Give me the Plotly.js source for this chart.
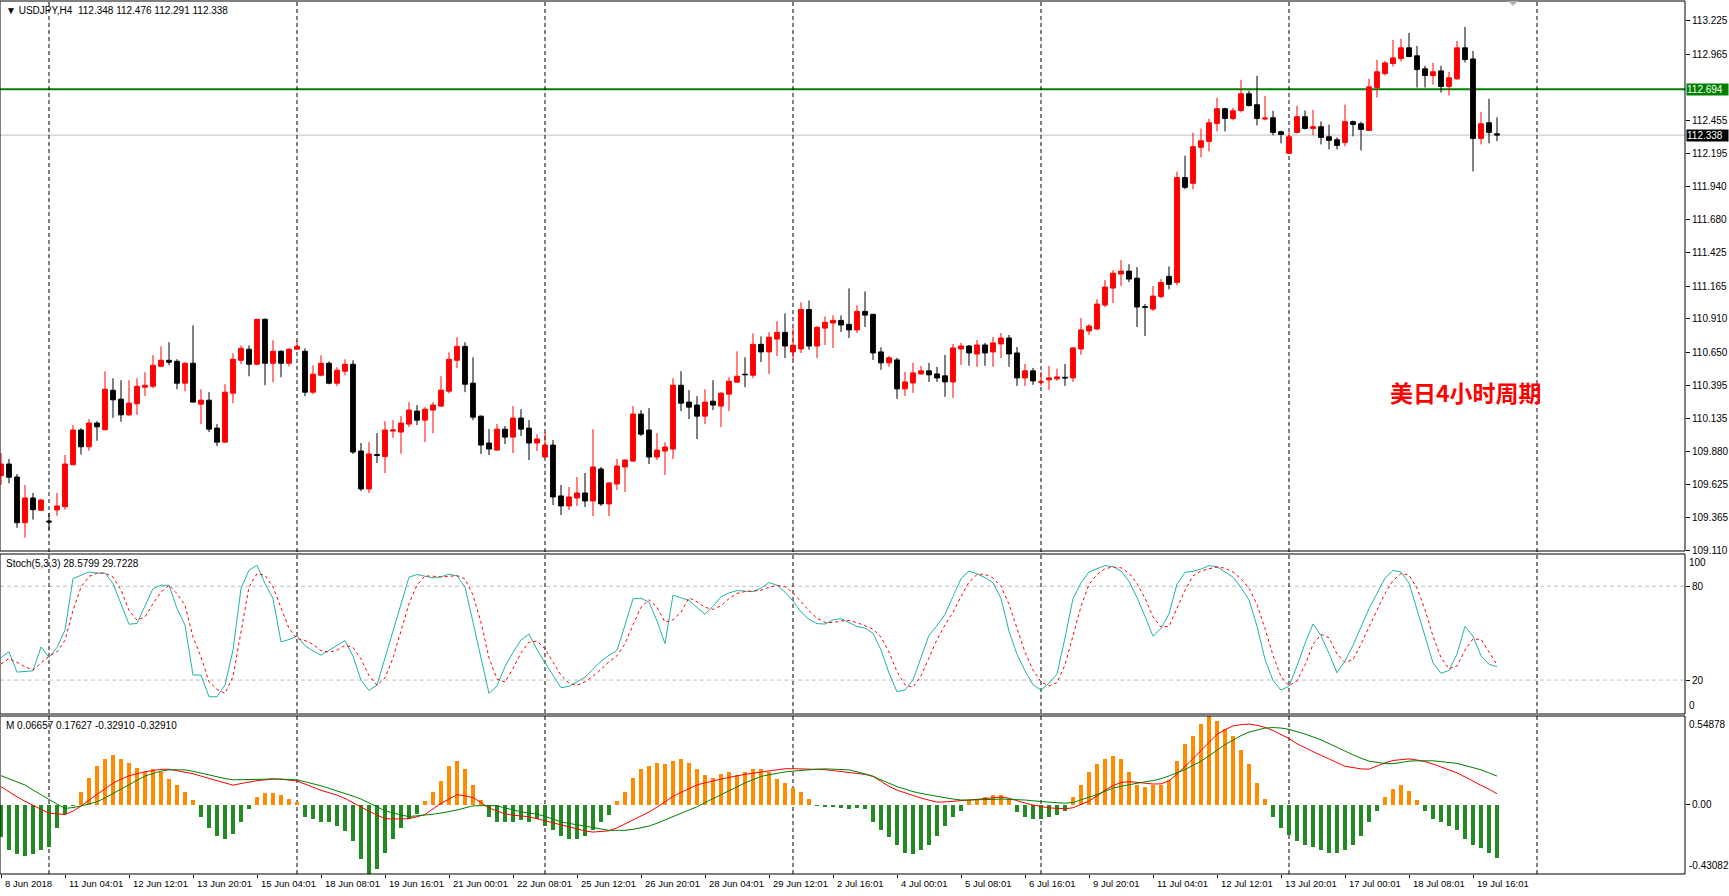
<!DOCTYPE html>
<html><head><meta charset="utf-8">
<script src="https://cdn.plot.ly/plotly-3.0.1.min.js"></script>
<style>html,body{margin:0;padding:0;background:#fff;overflow:hidden}#chart{width:1729px;height:896px}</style>
</head><body><div id="chart"></div>
<script>
const opens = [109.691,109.782,109.681,109.326,109.518,109.422,109.339,109.425,109.450,109.776,110.046,109.916,110.100,110.048,110.355,110.286,110.164,110.250,110.379,110.386,110.541,110.588,110.580,110.410,110.565,110.247,110.278,110.061,109.952,110.332,110.588,110.674,110.557,110.906,110.565,110.658,110.565,110.674,110.658,110.340,110.472,110.565,110.410,110.503,110.557,109.883,109.588,109.856,109.839,110.038,110.030,110.092,110.193,110.123,110.201,110.232,110.348,110.588,110.696,110.410,110.154,109.945,109.890,110.053,109.991,110.139,110.061,109.945,109.836,109.929,109.534,109.456,109.518,109.557,109.495,109.743,109.472,109.627,109.759,109.805,110.170,110.046,109.836,109.883,109.898,110.394,110.263,110.240,110.154,110.270,110.232,110.325,110.418,110.480,110.472,110.712,110.653,110.753,110.805,110.653,110.676,110.983,110.699,110.838,110.878,110.898,110.867,110.824,110.968,110.945,110.653,110.568,110.591,110.366,110.412,110.482,110.506,110.482,110.467,110.420,110.676,110.699,110.637,110.707,110.653,110.715,110.761,110.645,110.451,110.506,110.418,110.436,110.444,110.456,110.451,110.676,110.816,110.831,111.017,111.149,111.258,111.281,111.226,111.005,110.986,111.084,111.240,111.193,112.008,111.963,112.243,112.289,112.429,112.543,112.467,112.529,112.659,112.574,112.463,112.473,112.364,112.196,112.359,112.481,112.390,112.403,112.325,112.302,112.281,112.442,112.426,112.374,112.708,112.816,112.894,112.933,113.016,112.954,112.853,112.801,112.837,112.716,112.775,113.016,112.930,112.312,112.434,112.348];
const highs = [109.867,109.821,109.704,109.619,109.557,109.510,109.399,109.557,109.852,110.084,110.061,110.131,110.115,110.503,110.448,110.433,110.433,110.448,110.495,110.627,110.696,110.728,110.596,110.573,110.859,110.363,110.340,110.092,110.402,110.643,110.704,110.704,110.910,110.914,110.743,110.666,110.681,110.743,110.681,110.549,110.627,110.580,110.534,110.596,110.588,109.945,109.952,110.022,110.115,110.123,110.154,110.263,110.240,110.224,110.263,110.464,110.650,110.767,110.728,110.611,110.158,110.053,110.092,110.077,110.232,110.208,110.123,110.014,110.030,109.968,109.619,109.603,109.681,109.712,110.053,109.759,109.640,109.821,109.818,110.232,110.201,110.216,110.022,109.952,110.448,110.503,110.356,110.309,110.363,110.433,110.340,110.456,110.658,110.611,110.797,110.774,110.805,110.891,110.953,110.836,111.038,111.053,110.854,110.929,110.937,110.937,111.147,111.015,111.123,110.949,110.689,110.622,110.607,110.498,110.568,110.545,110.568,110.537,110.630,110.715,110.723,110.707,110.746,110.723,110.769,110.800,110.785,110.691,110.560,110.529,110.498,110.545,110.522,110.560,110.691,110.916,110.870,111.063,111.211,111.289,111.366,111.335,111.312,111.025,111.165,111.219,111.317,112.054,112.178,112.357,112.388,112.465,112.628,112.550,112.550,112.768,112.682,112.799,112.643,112.527,112.372,112.359,112.566,112.529,112.535,112.444,112.419,112.320,112.574,112.452,112.442,112.775,112.923,112.915,113.078,113.086,113.132,113.031,112.876,112.899,112.876,112.830,113.070,113.179,112.992,112.519,112.620,112.476];
const lows = [109.621,109.632,109.287,109.210,109.350,109.417,109.272,109.380,109.427,109.776,109.855,109.885,109.963,110.048,110.141,110.110,110.156,110.164,110.311,110.371,110.534,110.549,110.363,110.348,110.260,110.092,110.030,109.921,109.948,110.255,110.557,110.464,110.549,110.394,110.418,110.456,110.541,110.670,110.309,110.325,110.464,110.402,110.386,110.472,109.860,109.572,109.557,109.790,109.712,109.986,109.862,110.069,110.084,109.952,110.022,110.228,110.332,110.526,110.340,110.123,109.860,109.852,109.886,109.937,109.867,109.999,109.813,109.883,109.832,109.463,109.386,109.425,109.456,109.448,109.378,109.456,109.378,109.580,109.565,109.798,109.999,109.782,109.813,109.697,109.821,110.193,110.131,109.976,110.092,110.201,110.069,110.193,110.414,110.379,110.448,110.575,110.482,110.622,110.606,110.591,110.645,110.669,110.606,110.707,110.684,110.808,110.761,110.800,110.847,110.591,110.514,110.537,110.288,110.311,110.335,110.475,110.420,110.420,110.304,110.296,110.552,110.545,110.537,110.545,110.537,110.606,110.537,110.389,110.389,110.397,110.389,110.358,110.428,110.389,110.420,110.630,110.785,110.824,111.001,111.033,111.165,111.196,110.847,110.777,110.971,111.069,111.139,111.170,111.917,111.917,112.165,112.211,112.367,112.367,112.452,112.514,112.560,112.413,112.452,112.336,112.274,112.190,112.351,112.382,112.336,112.266,112.227,112.227,112.250,112.328,112.219,112.372,112.630,112.801,112.871,112.909,112.944,112.708,112.708,112.731,112.669,112.646,112.768,112.902,112.056,112.266,112.274,112.291];
const closes = [109.782,109.679,109.326,109.518,109.427,109.502,109.332,109.456,109.782,110.046,109.916,110.100,110.071,110.363,110.281,110.164,110.255,110.386,110.394,110.549,110.588,110.573,110.410,110.565,110.263,110.278,110.053,109.952,110.340,110.596,110.681,110.557,110.906,110.565,110.658,110.565,110.674,110.696,110.340,110.480,110.565,110.410,110.511,110.557,109.875,109.588,109.860,109.848,110.046,110.046,110.100,110.201,110.123,110.208,110.240,110.356,110.596,110.696,110.402,110.146,109.929,109.898,110.053,109.991,110.139,110.053,109.945,109.976,109.929,109.526,109.456,109.526,109.557,109.495,109.759,109.472,109.635,109.766,109.813,110.170,110.014,109.836,109.890,109.914,110.394,110.255,110.224,110.154,110.263,110.240,110.332,110.425,110.464,110.476,110.712,110.653,110.767,110.805,110.699,110.705,110.983,110.699,110.844,110.883,110.898,110.862,110.824,110.968,110.939,110.645,110.568,110.607,110.366,110.420,110.490,110.506,110.475,110.451,110.420,110.684,110.699,110.645,110.707,110.645,110.723,110.761,110.637,110.451,110.506,110.428,110.422,110.451,110.459,110.451,110.684,110.824,110.854,111.025,111.157,111.265,111.281,111.219,111.002,111.000,111.087,111.193,111.178,112.008,111.932,112.248,112.294,112.434,112.543,112.467,112.527,112.659,112.568,112.467,112.470,112.359,112.343,112.325,112.481,112.390,112.403,112.320,112.297,112.258,112.442,112.421,112.382,112.713,112.830,112.899,112.938,113.016,112.948,112.847,112.801,112.830,112.716,112.783,113.016,112.925,112.312,112.426,112.359,112.338];

const stochMain = [34.5,38.0,25.1,25.3,25.9,41.2,34.5,40.8,51.9,84.9,87.0,89.1,88.4,88.4,81.7,68.9,55.7,56.2,66.8,78.5,80.6,80.6,65.7,55.1,23.2,23.2,9.3,9.3,16.8,39.1,78.5,90.2,93.4,81.7,72.1,44.4,45.9,48.1,42.0,38.6,35.9,39.1,42.2,45.2,35.3,19.9,13.4,16.8,34.1,51.5,68.7,85.8,87.5,86.4,85.3,86.0,87.7,86.6,79.6,57.0,34.1,11.4,16.3,28.6,37.7,45.7,49.4,39.6,31.0,23.0,15.1,16.0,18.8,21.8,26.9,32.0,35.9,38.9,55.1,72.0,72.3,69.8,57.8,43.3,74.3,72.6,70.9,66.4,62.1,67.2,73.3,75.7,77.2,76.9,76.5,78.8,82.3,80.7,76.2,70.5,63.6,58.9,56.1,55.8,58.5,59.2,56.5,54.3,53.2,49.9,39.3,24.5,12.5,13.7,20.0,34.3,48.7,54.8,62.0,73.4,84.8,89.7,87.9,85.5,82.2,72.2,51.2,36.4,25.9,17.0,13.5,18.0,23.8,47.1,72.1,82.1,89.1,91.2,93.2,92.5,89.7,83.1,72.8,60.8,48.0,53.0,62.3,81.4,88.9,89.5,91.0,93.1,92.5,89.1,85.8,79.1,71.3,54.4,33.2,19.7,13.5,16.1,29.0,43.4,55.9,48.3,37.1,24.6,32.2,42.2,54.2,65.7,75.4,85.2,90.1,89.1,82.1,64.9,48.0,31.0,24.3,26.2,36.6,54.4,48.0,35.5,30.1,28.58];
const stochSignal = [30.2,33.8,31.3,28.5,26.4,30.6,35.3,38.0,45.5,64.6,79.5,86.3,88.4,88.4,85.9,77.4,64.6,58.3,60.4,68.9,76.3,80.6,75.3,67.8,47.6,34.8,18.9,14.0,11.5,22.1,49.8,79.5,88.1,87.0,79.5,65.7,53.0,46.6,45.3,42.9,38.8,37.9,39.1,42.2,40.9,33.5,22.9,16.7,21.4,34.1,51.4,68.7,80.7,86.6,86.4,85.9,86.3,86.8,84.6,74.4,56.9,34.2,20.6,18.8,27.5,37.3,44.3,44.9,40.0,31.2,23.0,18.0,16.6,18.9,22.5,26.9,31.6,35.6,43.3,55.3,66.5,71.4,66.6,57.0,58.5,63.4,72.6,70.0,66.5,65.2,67.5,72.1,75.4,76.6,76.9,77.4,79.2,80.6,79.7,75.8,70.1,64.3,59.5,56.9,56.8,57.8,58.1,56.7,54.7,52.5,47.5,37.9,25.4,16.9,15.4,22.7,34.3,45.9,55.2,63.4,73.4,82.6,87.5,87.7,85.2,80.0,68.5,53.3,37.8,26.4,18.8,16.2,18.4,29.6,47.7,67.1,81.1,87.5,91.2,92.3,91.8,88.4,81.9,72.2,60.5,53.9,54.4,65.6,77.5,86.6,89.8,91.2,92.2,91.6,89.1,84.7,78.7,68.3,53.0,35.8,22.1,16.4,19.5,29.5,42.8,49.2,47.1,36.7,31.3,33.0,42.9,54.0,65.1,75.4,83.6,88.1,87.1,78.7,65.0,48.0,34.4,27.2,29.0,39.1,46.3,46.0,37.9,29.72];
const macdHist = [-0.202,-0.285,-0.306,-0.320,-0.306,-0.285,-0.264,-0.146,-0.056,-0.010,0.076,0.167,0.236,0.285,0.306,0.285,0.257,0.229,0.201,0.222,0.201,0.160,0.118,0.076,0.028,-0.076,-0.146,-0.195,-0.215,-0.181,-0.111,-0.028,0.049,0.069,0.069,0.056,0.035,0.014,-0.076,-0.090,-0.111,-0.111,-0.132,-0.167,-0.229,-0.340,-0.43082,-0.400,-0.299,-0.215,-0.146,-0.090,-0.056,0.021,0.076,0.146,0.236,0.271,0.222,0.118,0.028,-0.076,-0.111,-0.111,-0.111,-0.097,-0.111,-0.090,-0.132,-0.160,-0.195,-0.215,-0.215,-0.195,-0.160,-0.111,-0.063,0.021,0.076,0.167,0.222,0.236,0.257,0.250,0.271,0.285,0.257,0.222,0.181,0.167,0.188,0.201,0.181,0.201,0.222,0.222,0.201,0.160,0.132,0.104,0.076,0.035,-0.007,-0.014,-0.014,-0.021,-0.028,-0.021,-0.028,-0.111,-0.160,-0.202,-0.250,-0.299,-0.306,-0.285,-0.250,-0.195,-0.132,-0.076,-0.042,0.028,0.035,0.049,0.056,0.056,0.035,-0.049,-0.076,-0.090,-0.090,-0.076,-0.063,-0.042,0.049,0.118,0.201,0.250,0.285,0.299,0.285,0.201,0.118,0.111,0.118,0.118,0.153,0.271,0.375,0.424,0.500,0.54878,0.520,0.466,0.424,0.341,0.250,0.132,0.035,-0.076,-0.146,-0.188,-0.229,-0.250,-0.264,-0.285,-0.299,-0.299,-0.285,-0.250,-0.195,-0.111,-0.042,0.049,0.097,0.118,0.083,0.028,-0.042,-0.090,-0.111,-0.132,-0.160,-0.215,-0.250,-0.271,-0.299,-0.3291];
const macdRed = [0.110,0.077,0.048,0.020,-0.007,-0.030,-0.054,-0.060,-0.062,-0.041,-0.010,0.027,0.064,0.101,0.133,0.157,0.178,0.191,0.203,0.210,0.218,0.219,0.211,0.203,0.191,0.176,0.161,0.146,0.131,0.120,0.130,0.140,0.148,0.153,0.158,0.157,0.152,0.146,0.127,0.107,0.088,0.073,0.058,0.038,0.010,-0.018,-0.042,-0.065,-0.087,-0.090,-0.090,-0.088,-0.076,-0.062,-0.027,0.007,0.034,0.061,0.054,0.043,0.013,-0.021,-0.040,-0.058,-0.066,-0.071,-0.076,-0.088,-0.101,-0.114,-0.126,-0.139,-0.151,-0.164,-0.171,-0.169,-0.163,-0.145,-0.121,-0.097,-0.072,-0.047,-0.016,0.018,0.050,0.075,0.100,0.122,0.134,0.147,0.158,0.168,0.179,0.187,0.194,0.201,0.209,0.216,0.222,0.222,0.222,0.221,0.218,0.216,0.211,0.206,0.201,0.194,0.187,0.174,0.144,0.113,0.089,0.072,0.054,0.040,0.027,0.015,0.016,0.019,0.022,0.027,0.032,0.037,0.042,0.047,0.039,0.023,0.009,-0.003,-0.013,-0.021,-0.024,-0.026,-0.020,0.000,0.021,0.053,0.089,0.117,0.136,0.142,0.136,0.131,0.127,0.128,0.147,0.188,0.233,0.284,0.335,0.385,0.435,0.464,0.487,0.495,0.499,0.491,0.478,0.459,0.435,0.409,0.377,0.350,0.328,0.305,0.283,0.260,0.237,0.229,0.221,0.219,0.239,0.258,0.273,0.278,0.283,0.276,0.266,0.251,0.233,0.216,0.196,0.171,0.143,0.119,0.095,0.06657];
const macdGreen = [0.179,0.161,0.143,0.121,0.090,0.060,0.030,0.003,-0.024,-0.019,-0.009,0.003,0.017,0.041,0.068,0.096,0.124,0.152,0.177,0.192,0.207,0.215,0.215,0.215,0.206,0.194,0.182,0.171,0.161,0.153,0.153,0.153,0.154,0.157,0.159,0.158,0.156,0.153,0.141,0.129,0.116,0.100,0.085,0.069,0.052,0.034,0.012,-0.014,-0.039,-0.053,-0.065,-0.075,-0.071,-0.066,-0.060,-0.053,-0.045,-0.034,-0.021,-0.009,-0.007,-0.007,-0.008,-0.021,-0.034,-0.045,-0.052,-0.060,-0.073,-0.091,-0.108,-0.117,-0.125,-0.133,-0.143,-0.153,-0.160,-0.160,-0.160,-0.154,-0.144,-0.134,-0.116,-0.095,-0.075,-0.055,-0.035,-0.014,0.012,0.037,0.062,0.087,0.112,0.134,0.154,0.174,0.184,0.194,0.202,0.207,0.212,0.216,0.219,0.221,0.220,0.218,0.215,0.203,0.191,0.176,0.153,0.130,0.111,0.096,0.080,0.069,0.059,0.049,0.042,0.034,0.028,0.028,0.028,0.029,0.032,0.034,0.033,0.031,0.028,0.023,0.018,0.014,0.011,0.008,0.013,0.029,0.044,0.062,0.082,0.102,0.113,0.123,0.133,0.141,0.148,0.160,0.177,0.195,0.217,0.243,0.268,0.302,0.337,0.371,0.399,0.427,0.449,0.462,0.474,0.477,0.474,0.466,0.452,0.437,0.419,0.401,0.378,0.353,0.328,0.308,0.287,0.269,0.262,0.254,0.253,0.261,0.269,0.271,0.271,0.271,0.266,0.261,0.255,0.242,0.229,0.215,0.196,0.17627];

const timeLabels = ['8 Jun 2018','11 Jun 04:01','12 Jun 12:01','13 Jun 20:01','15 Jun 04:01','18 Jun 08:01','19 Jun 16:01','21 Jun 00:01','22 Jun 08:01','25 Jun 12:01','26 Jun 20:01','28 Jun 04:01','29 Jun 12:01','2 Jul 16:01','4 Jul 00:01','5 Jul 08:01','6 Jul 16:01','9 Jul 20:01','11 Jul 04:01','12 Jul 12:01','13 Jul 20:01','17 Jul 00:01','18 Jul 08:01','19 Jul 16:01'];
const priceTicks = [113.225,112.965,112.455,112.195,111.940,111.680,111.425,111.165,110.910,110.650,110.395,110.135,109.880,109.625,109.365,109.110];
const weekStarts = [6,37,68,99,130,161,192];
const levelPrice = 112.694;
const bidPrice = 112.338;
const stochLevels = [80,20];
const macdMax = 0.54878, macdMin = -0.43082;

const n = opens.length;
const bars = Array.from({length:n},(_,i)=>i);
const labelBars = timeLabels.map((_,k)=>k*8);
const FONT = 'Liberation Sans, Arial, sans-serif';

const traces = [
  {type:'candlestick', x:bars, open:opens, high:highs, low:lows, close:closes, xaxis:'x', yaxis:'y',
   increasing:{line:{color:'#ff0000',width:1},fillcolor:'#ff0000'},
   decreasing:{line:{color:'#000000',width:1},fillcolor:'#000000'},
   whiskerwidth:0, hoverinfo:'skip', showlegend:false},
  {type:'scatter', mode:'lines', x:bars, y:stochMain, xaxis:'x2', yaxis:'y2', line:{color:'#20b2aa',width:1}, hoverinfo:'skip', showlegend:false},
  {type:'scatter', mode:'lines', x:bars, y:stochSignal, xaxis:'x2', yaxis:'y2', line:{color:'#ff0000',width:1,dash:'3px,3px'}, hoverinfo:'skip', showlegend:false},
  {type:'bar', x:bars, y:macdHist, xaxis:'x3', yaxis:'y3', width:0.38,
   marker:{color:macdHist.map(v=>v>=0?'#ff8c00':'#228b22'), line:{width:0}}, hoverinfo:'skip', showlegend:false},
  {type:'scatter', mode:'lines', x:bars, y:macdRed, xaxis:'x3', yaxis:'y3', line:{color:'#ff0000',width:1}, hoverinfo:'skip', showlegend:false},
  {type:'scatter', mode:'lines', x:bars, y:macdGreen, xaxis:'x3', yaxis:'y3', line:{color:'#008000',width:1}, hoverinfo:'skip', showlegend:false}
];

const H = 896, T = 1, B = 874, PW = 1685;
const pf = px => (B - px) / (B - T);
const dMain = [pf(551), 1], dSto = [pf(714), pf(554)], dMacd = [0, pf(716)];
const xr = [-0.125, 210.5];
const ax = {showgrid:false, zeroline:false, showline:false, fixedrange:true};
const yax = Object.assign({}, ax, {side:'right', ticks:'outside', ticklen:4, tickcolor:'#000', tickfont:{family:FONT,size:10,color:'#000'}});

const shapes = [];
[dMain,dSto,dMacd].forEach(d=>shapes.push({type:'rect',xref:'paper',yref:'paper',x0:0,x1:1,y0:d[0],y1:d[1],line:{color:'#000',width:1},fillcolor:'rgba(0,0,0,0)',layer:'above'}));
shapes.push({type:'line',xref:'paper',yref:'y',x0:0,x1:1,y0:bidPrice,y1:bidPrice,line:{color:'#c0c0c0',width:1},layer:'below'});
shapes.push({type:'line',xref:'paper',yref:'y',x0:0,x1:1,y0:levelPrice,y1:levelPrice,line:{color:'#008000',width:2},layer:'below'});
stochLevels.forEach(v=>shapes.push({type:'line',xref:'paper',yref:'y2',x0:0,x1:1,y0:v,y1:v,line:{color:'#c0c0c0',width:1,dash:'4px,3px'},layer:'below'}));
weekStarts.forEach(b=>shapes.push({type:'line',xref:'x',yref:'paper',x0:b,x1:b,y0:0,y1:1,line:{color:'#000',width:1,dash:'4px,3px'},layer:'below'}));
// chart-shift marker at the top
shapes.push({type:'path',xref:'paper',yref:'paper',path:`M ${1508/PW},${pf(1)} L ${1518/PW},${pf(1)} L ${1513/PW},${pf(6)} Z`,fillcolor:'#b0b0b0',line:{width:0},layer:'above'});

const ann = [];
const txt = (text,x,y,xref,yref,opts)=>ann.push(Object.assign({text,x,y,xref,yref,showarrow:false,xanchor:'left',yanchor:'middle',font:{family:FONT,size:10,color:'#000'}},opts||{}));
txt('▼ USDJPY,H4  112.348 112.476 112.291 112.338',0,1,'paper','paper',{xshift:4,yanchor:'top',yshift:-2});
txt('Stoch(5,3,3) 28.5799 29.7228',0,dSto[1],'paper','paper',{xshift:4,yanchor:'top',yshift:-2});
txt('M 0.06657 0.17627 -0.32910 -0.32910',0,dMacd[1],'paper','paper',{xshift:4,yanchor:'top',yshift:-2});
txt('100',1,dSto[1],'paper','paper',{xshift:2,yanchor:'top',yshift:-1});
txt('0',1,dSto[0],'paper','paper',{xshift:2,yanchor:'bottom',yshift:1});
txt(macdMax.toFixed(5),1,dMacd[1],'paper','paper',{xshift:2,yanchor:'top',yshift:-1});
txt(macdMin.toFixed(5),1,dMacd[0],'paper','paper',{xshift:2,yanchor:'bottom',yshift:1});
txt(levelPrice.toFixed(3),1,levelPrice,'paper','y',{xshift:1,bgcolor:'#008000',font:{family:FONT,size:10,color:'#fff'},borderpad:0,width:41,align:'left'});
txt(bidPrice.toFixed(3),1,bidPrice,'paper','y',{xshift:1,bgcolor:'#000',font:{family:FONT,size:10,color:'#fff'},borderpad:0,width:41,align:'left'});
timeLabels.forEach((t,k)=>txt(t,labelBars[k],0,'x3','paper',{xanchor:'left',yanchor:'top',xshift:2,yshift:-2,font:{family:'Liberation Sans Narrow, Arial Narrow, Liberation Sans, sans-serif',size:9.5,color:'#000'}}));
ann.push({text:'<b>美日4小时周期</b>',xref:'paper',yref:'paper',x:1466/PW,y:pf(392),showarrow:false,xanchor:'center',yanchor:'middle',font:{family:'Noto Sans CJK SC, sans-serif',size:23,color:'#ff0000'}});

const layout = {
  width:1729, height:H, margin:{l:0,r:44,t:T,b:H-B,pad:0},
  paper_bgcolor:'#fff', plot_bgcolor:'#fff', showlegend:false, boxgap:0.4, boxgroupgap:0, bargap:0,
  xaxis:Object.assign({},ax,{domain:[0,1],anchor:'y',range:xr,showticklabels:false,ticks:'',rangeslider:{visible:false}}),
  xaxis2:Object.assign({},ax,{domain:[0,1],anchor:'y2',matches:'x',range:xr,showticklabels:false,ticks:''}),
  xaxis3:Object.assign({},ax,{domain:[0,1],anchor:'y3',matches:'x',range:xr,showticklabels:false,ticks:'outside',ticklen:3,tickcolor:'#000',tickmode:'array',tickvals:labelBars}),
  yaxis:Object.assign({},yax,{domain:dMain,range:[109.106,113.380],tickmode:'array',tickvals:priceTicks,ticktext:priceTicks.map(v=>v.toFixed(3))}),
  yaxis2:Object.assign({},yax,{domain:dSto,range:[-1.7,100.6],tickmode:'array',tickvals:stochLevels,ticktext:stochLevels.map(String)}),
  yaxis3:Object.assign({},yax,{domain:dMacd,range:[macdMin,macdMax],tickmode:'array',tickvals:[0],ticktext:['0.00']}),
  shapes, annotations:ann
};
Plotly.newPlot('chart', traces, layout, {staticPlot:true, displayModeBar:false});
</script></body></html>
